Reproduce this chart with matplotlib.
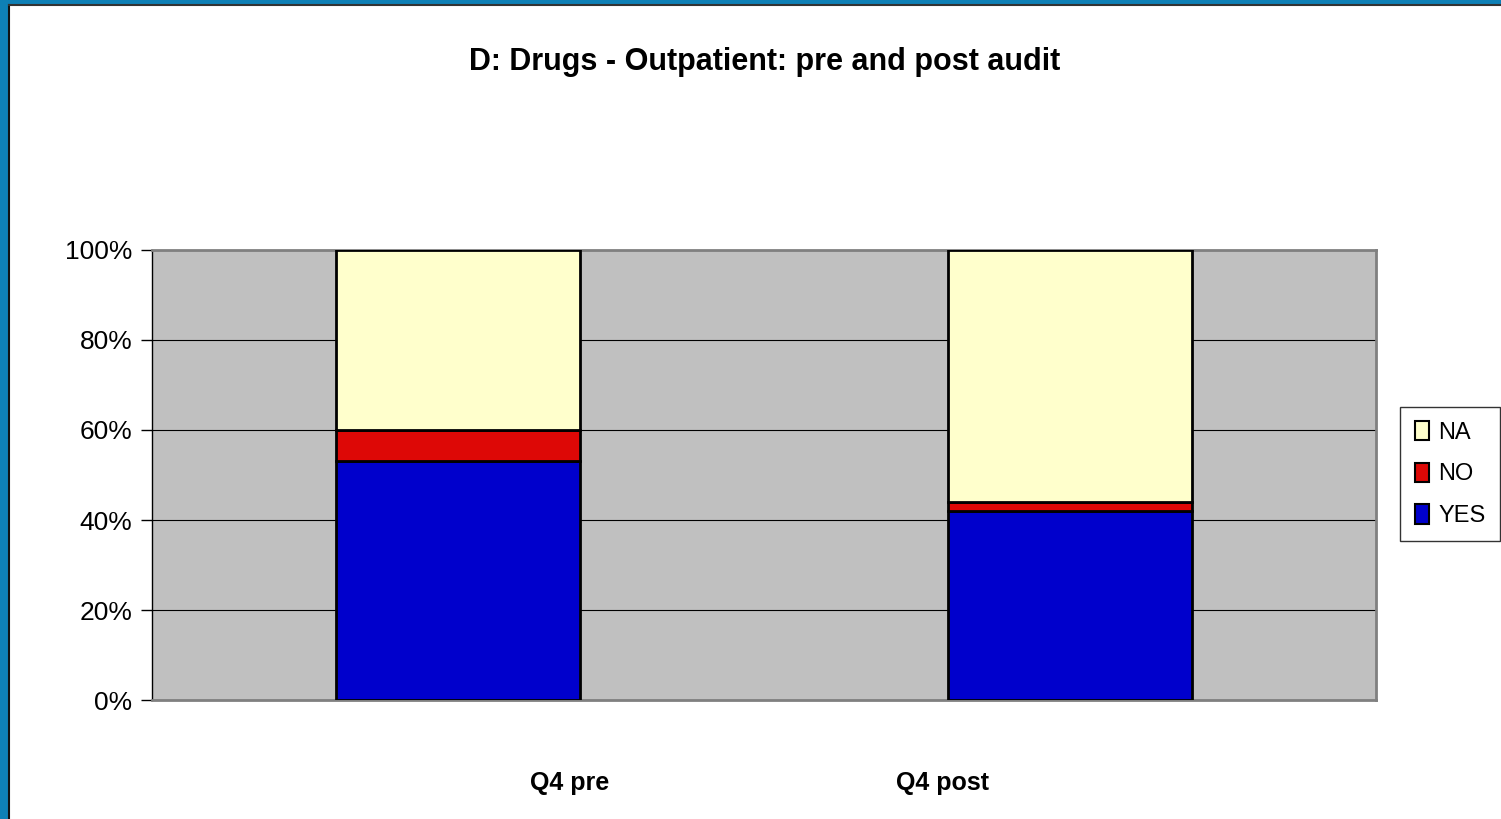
import matplotlib
matplotlib.use("Agg")
import matplotlib.pyplot as plt
from matplotlib.patches import Rectangle, Patch
import numpy as np

categories = ["Q4 pre", "Q4 post"]
series_names = ["YES", "NO", "NA"]
yes_vals = [53, 42]
no_vals = [7, 2]
na_vals = [40, 56]
colors = {"YES": "#0000CC", "NO": "#DD0806", "NA": "#FFFFCC"}
yticks = [0, 20, 40, 60, 80, 100]
ytick_labels = ["0%", "20%", "40%", "60%", "80%", "100%"]

FONT = ["Liberation Sans Narrow", "Liberation Sans", "DejaVu Sans"]
plt.rcParams["font.family"] = FONT

W, H = 1501, 819
fig = plt.figure(figsize=(W / 100, H / 100), dpi=100)
fig.patch.set_facecolor("white")

# window frame (blue strips + black inner line)
blue = "#0E80B6"
fig.add_artist(Rectangle((0, 0), 8 / W, 1, transform=fig.transFigure, color=blue, zorder=0))
fig.add_artist(Rectangle((0, 1 - 4 / H), 1, 4 / H, transform=fig.transFigure, color=blue, zorder=0))
fig.add_artist(plt.Line2D([9 / W, 9 / W], [0, 1 - 4.5 / H], transform=fig.transFigure, color="#111111", lw=1.5))
fig.add_artist(plt.Line2D([9 / W, 1], [1 - 4.5 / H, 1 - 4.5 / H], transform=fig.transFigure, color="#333333", lw=1.5))

ax = fig.add_axes([152 / W, (H - 700) / H, 1224 / W, 450 / H])
ax.set_facecolor("#C0C0C0")

x = np.arange(len(categories))
bw = 0.4
bottom = np.zeros(len(categories))
for name, vals in zip(series_names, [yes_vals, no_vals, na_vals]):
    ax.bar(x, vals, bw, bottom=bottom, color=colors[name], edgecolor="black", linewidth=2, zorder=3)
    bottom += np.array(vals)

ax.set_xlim(-0.5, len(categories) - 0.5)
ax.set_ylim(0, 100)
ax.set_yticks(yticks)
ax.set_yticklabels(ytick_labels, fontsize=19)
ax.yaxis.grid(True, color="black", linewidth=0.8, zorder=1)
ax.set_axisbelow(True)
ax.tick_params(axis="y", length=8, width=1, direction="out", pad=6)
ax.set_xticks([])

for side in ["top", "right", "bottom"]:
    ax.spines[side].set_color("#808080")
    ax.spines[side].set_linewidth(2)
ax.spines["left"].set_color("black")
ax.spines["left"].set_linewidth(1)

# category labels (offset as in reference)
label_x = [570, 943]
for lx, lab in zip(label_x, categories):
    fig.text(lx / W, 1 - 783 / H, lab, ha="center", va="center", fontsize=18, fontweight="bold")

fig.text(765 / W, 1 - 62 / H, "D: Drugs - Outpatient: pre and post audit",
         ha="center", va="center", fontsize=22, fontweight="bold")

handles = [Patch(facecolor=colors[n], edgecolor="black", linewidth=1.5) for n in ["NA", "NO", "YES"]]
leg = fig.legend(handles, ["NA", "NO", "YES"], loc="center", bbox_to_anchor=(1450 / W, 1 - 474 / H),
                 frameon=True, fancybox=False, fontsize=17, handlelength=0.6, handleheight=0.9,
                 handletextpad=0.4, labelspacing=0.8, borderpad=0.6)
leg.get_frame().set_edgecolor("black")
leg.get_frame().set_linewidth(1)

fig.savefig("out.png", dpi=100, facecolor="white")
